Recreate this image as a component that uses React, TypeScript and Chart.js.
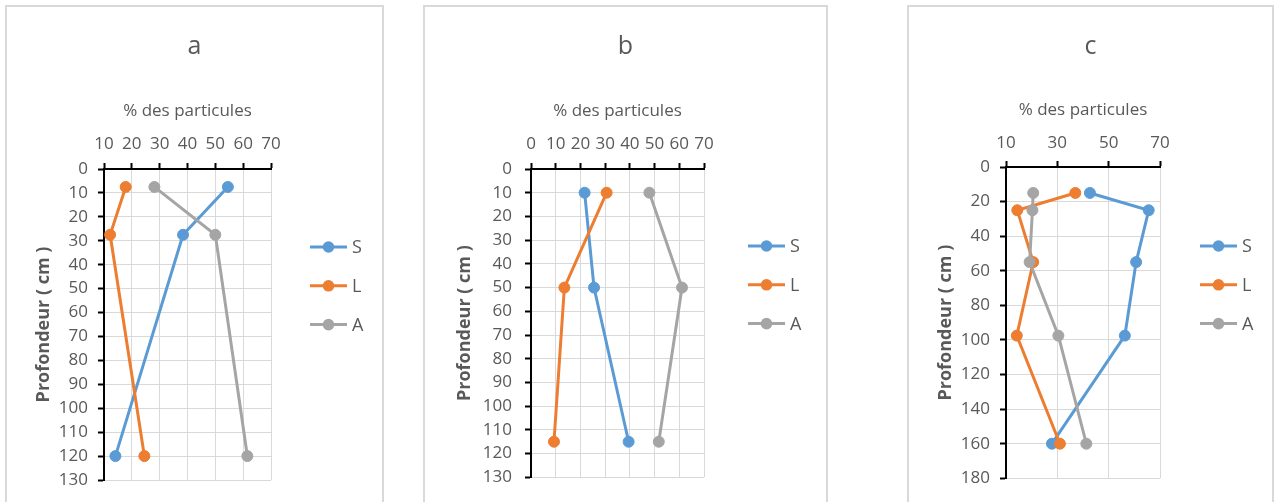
import React, { useEffect, useRef } from "react";
import { Chart, registerables } from "chart.js";

Chart.register(...registerables);

// ---- data ----
const seriesNames = ["S", "L", "A"];
const seriesColors = ["#5B9BD5", "#ED7D31", "#A5A5A5"];

// panel a
const depthA = [7.5, 27.5, 120];
const sandA = [54.5, 38.4, 14.1];
const siltA = [17.8, 12.2, 24.5];
const clayA = [28.1, 50, 61.5];

// panel b
const depthB = [10, 50, 115];
const sandB = [21.7, 25.5, 39.5];
const siltB = [30.6, 13.5, 9.3];
const clayB = [47.9, 61.1, 51.7];

// panel c
const depthC = [15, 25, 55, 97.5, 160];
const sandC = [42.7, 65.6, 60.7, 56.3, 27.9];
const siltC = [37, 14.4, 20.6, 14.2, 31];
const clayC = [20.6, 20.3, 19.2, 30.4, 41.3];

const panelTitles = ["a", "b", "c"];
const xAxisTitle = "% des particules";
const yAxisTitle = "Profondeur ( cm )";

const TEXT = "#595959";
const FONT = "'Open Sans', sans-serif";

type Geo = {
  left: number;
  width: number;
  padRight: number;
  padBottom: number;
  yScaleWidth: number;
  xScaleHeight: number;
  yTitlePad: number;
  yTickPad: number;
  xTitlePad: number;
  xTickPad: number;
  legendDx: number;
  legendY0: number;
};

type PanelProps = {
  title: string;
  depth: number[];
  values: number[][];
  xMin: number;
  xMax: number;
  xStep: number;
  yMax: number;
  yStep: number;
  geo: Geo;
};

function Panel({ title, depth, values, xMin, xMax, xStep, yMax, yStep, geo }: PanelProps) {
  const ref = useRef<HTMLCanvasElement | null>(null);
  const boxTop = 5;
  const boxHeight = 505;
  const border = 2;
  const cw = geo.width - 2 * border;
  const ch = boxHeight - 2 * border;

  useEffect(() => {
    if (!ref.current) return;
    const legendPlugin = {
      id: "lineLegend",
      afterDraw(chart: any) {
        const { ctx, chartArea } = chart;
        ctx.save();
        chart.data.datasets.forEach((ds: any, i: number) => {
          const y = geo.legendY0 + i * 38.8;
          const x0 = chartArea.right + geo.legendDx;
          ctx.strokeStyle = ds.borderColor;
          ctx.lineWidth = 3;
          ctx.beginPath();
          ctx.moveTo(x0, y);
          ctx.lineTo(x0 + 37, y);
          ctx.stroke();
          ctx.fillStyle = ds.borderColor;
          ctx.beginPath();
          ctx.arc(x0 + 18.5, y, 5.8, 0, Math.PI * 2);
          ctx.fill();
          ctx.fillStyle = TEXT;
          ctx.font = `18px ${FONT}`;
          ctx.textBaseline = "middle";
          ctx.textAlign = "left";
          ctx.fillText(ds.label, x0 + 42, y + 1);
        });
        ctx.restore();
      },
    };

    const datasets = seriesNames.map((name, si) => ({
      label: name,
      data: depth.map((d, i) => ({ x: values[si][i], y: d })),
      borderColor: seriesColors[si],
      backgroundColor: seriesColors[si],
      pointBackgroundColor: seriesColors[si],
      pointBorderColor: seriesColors[si],
      pointBorderWidth: 1,
      pointRadius: 5.5,
      borderWidth: 3,
      tension: 0,
      fill: false,
      order: 3 - si,
    }));

    const chart = new Chart(ref.current, {
      type: "line",
      data: { datasets },
      plugins: [legendPlugin],
      options: {
        responsive: false,
        animation: false,
        events: [],
        layout: {
          padding: { top: 0, left: 0, right: 0, bottom: geo.padBottom },
        },
        plugins: {
          legend: { display: false },
          tooltip: { enabled: false },
          title: {
            display: true,
            text: title,
            color: TEXT,
            font: { family: FONT, size: 25, weight: "normal" },
            padding: { top: 25, bottom: 0 },
          },
        },
        scales: {
          x: {
            type: "linear",
            position: "top",
            min: xMin,
            max: xMax,
            afterFit: (s: any) => {
              s.height = geo.xScaleHeight;
            },
            ticks: {
              stepSize: xStep,
              autoSkip: false,
              maxRotation: 0,
              color: TEXT,
              padding: geo.xTickPad,
              font: { family: FONT, size: 17 },
            },
            grid: {
              color: "#d9d9d9",
              lineWidth: 1,
              tickColor: "#000",
              tickLength: 6,
              tickWidth: 2,
            },
            border: { color: "#000", width: 2 },
            title: {
              display: true,
              text: xAxisTitle,
              color: TEXT,
              font: { family: FONT, size: 17 },
              padding: { top: geo.xTitlePad, bottom: 0 },
            },
          },
          y: {
            type: "linear",
            reverse: true,
            min: 0,
            max: yMax,
            afterFit: (s: any) => {
              s.width = geo.yScaleWidth;
            },
            ticks: {
              stepSize: yStep,
              autoSkip: false,
              color: TEXT,
              padding: geo.yTickPad,
              font: { family: FONT, size: 17 },
            },
            grid: {
              color: "#d9d9d9",
              lineWidth: 1,
              tickColor: "#000",
              tickLength: 6,
              tickWidth: 2,
            },
            border: { color: "#000", width: 2 },
            title: {
              display: true,
              text: yAxisTitle,
              color: TEXT,
              font: { family: FONT, size: 18, weight: "bold" },
              padding: { top: geo.yTitlePad, bottom: 0 },
            },
          },
          // empty right-hand scale that only reserves room for the legend
          yLegend: {
            type: "linear",
            position: "right",
            min: 0,
            max: yMax,
            afterFit: (s: any) => {
              s.width = geo.padRight;
            },
            ticks: { display: false },
            grid: { display: false, drawTicks: false },
            border: { display: false },
          },
        },
      } as any,
    });
    return () => chart.destroy();
  }, []);

  return (
    <div
      style={{
        position: "absolute",
        left: geo.left,
        top: boxTop,
        width: geo.width - 2 * border,
        height: ch,
        border: `${border}px solid #d9d9d9`,
        background: "#fff",
      }}
    >
      <canvas ref={ref} width={cw} height={ch} style={{ display: "block", width: cw, height: ch }} />
    </div>
  );
}

const geoA: Geo = {
  left: 5, width: 379, padRight: 111, padBottom: 28, yScaleWidth: 97, xScaleHeight: 107,
  yTitlePad: 26, yTickPad: 10, xTitlePad: 38.8, xTickPad: 9, legendDx: 39, legendY0: 240,
};
const geoB: Geo = {
  left: 423, width: 405, padRight: 122, padBottom: 30.7, yScaleWidth: 106, xScaleHeight: 107,
  yTitlePad: 29, yTickPad: 13, xTitlePad: 38.8, xTickPad: 9, legendDx: 44, legendY0: 239,
};
const geoC: Geo = {
  left: 907, width: 367, padRight: 112, padBottom: 29.7, yScaleWidth: 97, xScaleHeight: 105,
  yTitlePad: 26, yTickPad: 10, xTitlePad: 38, xTickPad: 8, legendDx: 40, legendY0: 239,
};

export default function App() {
  return (
    <div
      style={{
        position: "absolute",
        left: 0,
        top: 0,
        width: 1274,
        height: 502,
        overflow: "hidden",
        background: "#fff",
      }}
    >
      <Panel title={panelTitles[0]} depth={depthA} values={[sandA, siltA, clayA]}
        xMin={10} xMax={70} xStep={10} yMax={130} yStep={10} geo={geoA} />
      <Panel title={panelTitles[1]} depth={depthB} values={[sandB, siltB, clayB]}
        xMin={0} xMax={70} xStep={10} yMax={130} yStep={10} geo={geoB} />
      <Panel title={panelTitles[2]} depth={depthC} values={[sandC, siltC, clayC]}
        xMin={10} xMax={70} xStep={20} yMax={180} yStep={20} geo={geoC} />
    </div>
  );
}
